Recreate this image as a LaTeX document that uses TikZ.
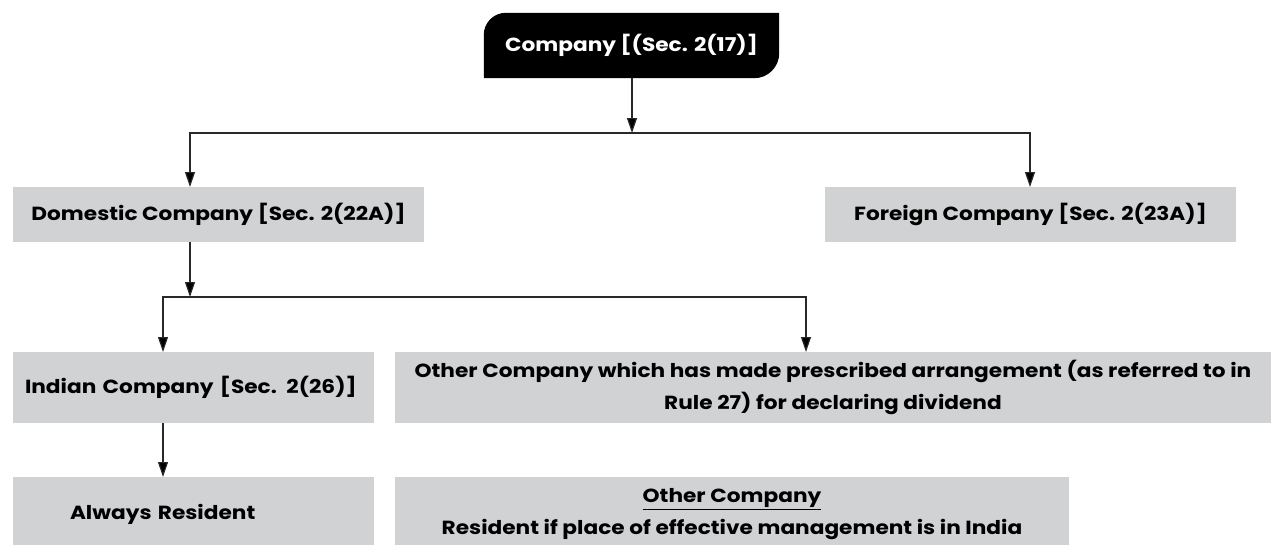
\documentclass[tikz,border=0pt]{standalone}
\usepackage{fontspec}
\setmainfont{Poppins}[FakeStretch=1.14]
\usetikzlibrary{arrows.meta,backgrounds}
\definecolor{boxgray}{RGB}{209,210,212}
\definecolor{linegray}{RGB}{40,40,40}
\tikzset{
  txt/.style={font=\fontsize{19pt}{32pt}\selectfont\bfseries, text=black},
  gbox/.style={txt, fill=boxgray, inner sep=0pt, outer sep=0pt},
  conn/.style={draw=linegray, line width=1.2pt,
    -{Triangle[length=15pt,width=10pt,fill=black]}},
  biconn/.style={draw=linegray, line width=1.2pt,
    {Triangle[length=15pt,width=10pt,fill=black]}-{Triangle[length=15pt,width=10pt,fill=black]}}
}
\begin{document}
\begin{tikzpicture}[x=1pt,y=-1pt]
\useasboundingbox (0,0) rectangle (1271,544);
\clip (0,0) rectangle (1271,544);
% top node
\node[txt, text=white, minimum width=295pt, minimum height=65pt, inner sep=0pt] (top) at (631.5,45.5) {Company [(Sec. 2(17)]};
\begin{scope}[on background layer]
\fill[black] (top.south west) -- ([yshift=-22pt]top.north west)
  arc[start angle=180,end angle=90,radius=22pt]
  -- (top.north east) -- ([yshift=25pt]top.south east)
  arc[start angle=0,end angle=-90,radius=25pt] -- cycle;
\end{scope}
% level 2
\node[gbox, minimum width=411pt, minimum height=55pt] (dom) at (218.5,214.5) {Domestic Company [Sec. 2(22A)]};
\node[gbox, minimum width=411pt, minimum height=55pt] (for) at (1030.5,214.5) {Foreign Company [Sec. 2(23A)]};
% level 3
\node[gbox, minimum height=71pt, text width=337pt, inner xsep=12pt, align=left] (ind) at (193.5,387.5) {Indian Company [Sec. 2(26)]};
\node[gbox, minimum width=876pt, minimum height=71pt, align=center] (oth) at (833,387.5) {Other Company which has made prescribed arrangement (as referred to in\\Rule 27) for declaring dividend};
% level 4 (boxes run past the lower edge of the picture)
\node[gbox, minimum height=75pt, text width=247pt, inner xsep=57pt, align=left] (ar) at (193.5,514.5) {Always Resident};
\node[gbox, minimum width=674pt, minimum height=75pt, align=center] (oc) at (732,514.5) {\underline{Other Company}\\Resident if place of effective management is in India};
% junctions
\coordinate (j1) at (632,133);
\coordinate (j1l) at (190,133);
\coordinate (j1r) at (1030,133);
\coordinate (j2) at (190,297);
\coordinate (j2l) at (163,297);
\coordinate (j2r) at (806,297);
% connectors
\draw[conn] (top.south -| j1) -- (j1);
\draw[biconn] (j1l |- dom.north) -- (j1l) -- (j1r) -- (j1r |- for.north);
\draw[conn] (j2 |- dom.south) -- (j2);
\draw[biconn] (j2l |- ind.north) -- (j2l) -- (j2r) -- (j2r |- oth.north);
\draw[conn] (j2l |- ind.south) -- (j2l |- ar.north);
\end{tikzpicture}
\end{document}
